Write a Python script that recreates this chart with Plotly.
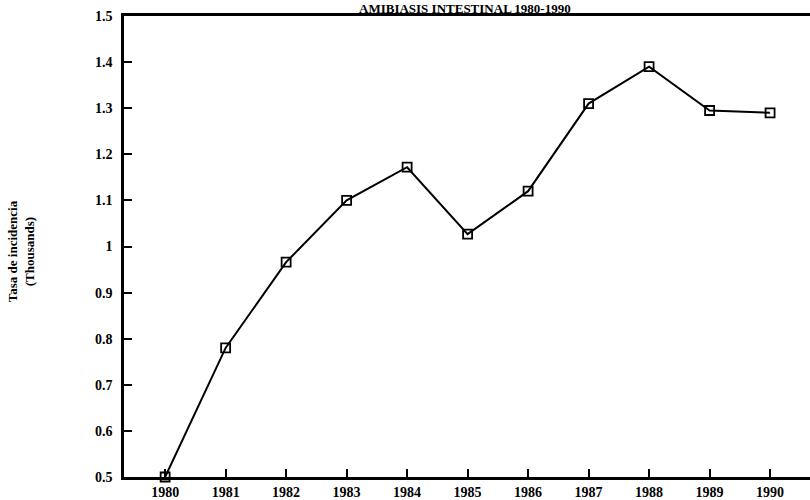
import plotly.graph_objects as go

years = [1980, 1981, 1982, 1983, 1984, 1985, 1986, 1987, 1988, 1989, 1990]
rates = [0.50, 0.78, 0.966, 1.10, 1.172, 1.027, 1.12, 1.31, 1.39, 1.295, 1.29]
ytick_vals = [0.5, 0.6, 0.7, 0.8, 0.9, 1.0, 1.1, 1.2, 1.3, 1.4, 1.5]
ytick_text = ["0.5", "0.6", "0.7", "0.8", "0.9", "1", "1.1", "1.2", "1.3", "1.4", "1.5"]
xtick_text = [str(y) for y in years]
title_text = "AMIBIASIS INTESTINAL 1980-1990"
ytitle_text = "Tasa de incidencia<br>(Thousands)"

font_family = "Liberation Serif, DejaVu Serif, serif"

fig = go.Figure()
fig.add_trace(go.Scatter(
    x=years, y=rates, mode="lines+markers",
    line=dict(color="black", width=2),
    marker=dict(symbol="square-open", size=9, color="black", line=dict(width=1.8, color="black")),
    cliponaxis=False, showlegend=False, hoverinfo="skip",
))

fig.update_layout(
    width=810, height=500,
    margin=dict(l=124, r=0, t=16, b=23),
    paper_bgcolor="white", plot_bgcolor="white",
    font=dict(family=font_family, color="black", size=14),
    xaxis=dict(
        range=[1979.32, 1990.66], tickvals=years, ticktext=xtick_text,
        ticks="inside", ticklen=8, tickwidth=1.5, tickcolor="black",
        showline=True, linecolor="black", linewidth=2.5, mirror=True,
        showgrid=False, zeroline=False,
        tickfont=dict(family=font_family, size=14, color="black", weight="bold"),
    ),
    yaxis=dict(
        range=[0.5, 1.5], tickvals=ytick_vals, ticktext=ytick_text,
        ticks="inside", ticklen=8, tickwidth=1.5, tickcolor="black",
        showline=True, linecolor="black", linewidth=2.5, mirror=False,
        showgrid=False, zeroline=False, ticklabelstandoff=6,
        tickfont=dict(family=font_family, size=14, color="black", weight="bold"),
    ),
    annotations=[
        dict(text=title_text, xref="paper", yref="paper", x=0.497, y=1.017,
             xanchor="center", yanchor="middle", showarrow=False,
             font=dict(family=font_family, size=13, color="black", weight="bold")),
        dict(text=ytitle_text, xref="paper", yref="paper", x=-0.150, y=0.49,
             xanchor="center", yanchor="middle", showarrow=False, textangle=-90,
             font=dict(family=font_family, size=13, color="black", weight="bold")),
    ],
)

fig.write_html("out.html", config={"displayModeBar": False},
               post_script="document.body.style.margin='0';")
